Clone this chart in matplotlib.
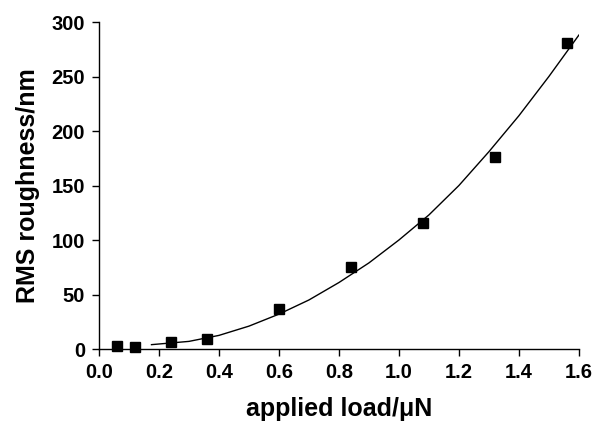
import numpy as np
import matplotlib.pyplot as plt

# measured points
load = [0.06, 0.12, 0.24, 0.36, 0.60, 0.84, 1.08, 1.32, 1.56]
rms = [3, 2, 6, 9, 37, 75, 116, 176, 281]

# fitted curve
fit_x = [0.175, 0.3, 0.4, 0.5, 0.6, 0.7, 0.8, 0.9, 1.0, 1.1, 1.2, 1.3, 1.4, 1.5, 1.6]
fit_y = [4, 7, 12.5, 21, 32, 45, 61, 79, 100, 123, 150, 181, 214, 250, 288]

plt.rcParams['font.family'] = ['Liberation Sans', 'DejaVu Sans']
plt.rcParams['font.weight'] = 'bold'

fig = plt.figure(figsize=(5.98, 4.25), dpi=100)
ax = fig.add_axes([0.1656, 0.1788, 0.8024, 0.7694])

ax.plot(fit_x, fit_y, 'k-', linewidth=1.0)
ax.plot(load, rms, 'ks', markersize=7, linestyle='none', clip_on=False)

ax.set_xlim(0, 1.6)
ax.set_ylim(0, 300)
ax.set_xticks(np.arange(0, 1.61, 0.2))
ax.set_yticks(np.arange(0, 301, 50))
ax.set_xticklabels(['%.1f' % v for v in np.arange(0, 1.61, 0.2)])

for s in ['top', 'right']:
    ax.spines[s].set_visible(False)
for s in ['left', 'bottom']:
    ax.spines[s].set_linewidth(1.0)
ax.tick_params(direction='out', length=5, width=1.0, labelsize=14.5, pad=5)

ax.set_xlabel('applied load/\u03bcN', fontsize=18, fontweight='bold', labelpad=11)
ax.set_ylabel('RMS roughness/nm', fontsize=18, fontweight='bold', labelpad=8)

fig.savefig('out.png', dpi=100)
